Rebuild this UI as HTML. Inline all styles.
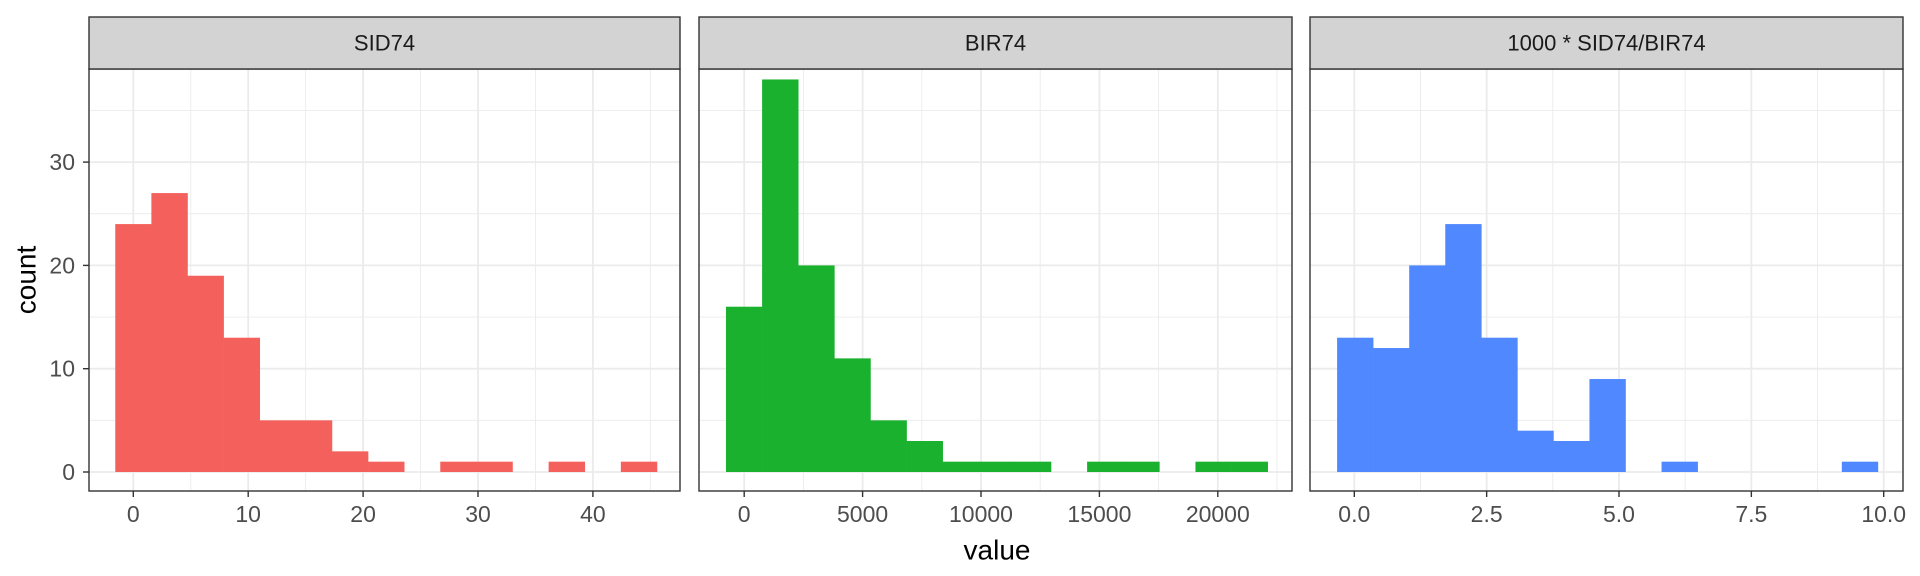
<!DOCTYPE html>
<html><head><meta charset="utf-8"><style>
html,body{margin:0;padding:0;background:#fff;}
svg{display:block;font-family:"Liberation Sans",Arial,sans-serif;}
</style></head><body>
<svg id="chart" width="1920" height="576" viewBox="0 0 1920 576" xmlns="http://www.w3.org/2000/svg">
<text x="26" y="280" font-size="28" fill="#000" text-anchor="middle" transform="rotate(-90 26 280)" dominant-baseline="central">count</text>
<text x="997" y="550" font-size="28" fill="#000" text-anchor="middle" dominant-baseline="central">value</text>
</svg>
<script>
const panelTitles = ["SID74", "BIR74", "1000 * SID74/BIR74"];
const countsSID = [24,27,19,13,5,5,2,1,0,1,1,0,1,0,1];
const countsBIR = [16,38,20,11,5,3,1,1,1,0,1,1,0,1,1];
const countsRatio = [13,12,20,24,13,4,3,9,0,1,0,0,0,0,1];
const binStartSID = -1.57, binWidthSID = 3.143;
const binStartBIR = -769, binWidthBIR = 1525;
const binStartRatio = -0.325, binWidthRatio = 0.681;
const ticksSID = [0,10,20,30,40];
const ticksBIR = [0,5000,10000,15000,20000];
const ticksRatio = [0,2.5,5,7.5,10];
const tickLabelsRatio = ["0.0","2.5","5.0","7.5","10.0"];
const yTicks = [0,10,20,30];

const NS = "http://www.w3.org/2000/svg";
const svg = document.getElementById('chart');
function mk(tag, attrs, parent){const e=document.createElementNS(NS,tag);for(const k in attrs)e.setAttribute(k,attrs[k]);(parent||svg).appendChild(e);return e;}

const plotTop = 69, plotBottom = 491, stripTop = 17;
const y0 = 472, pxPerCount = 10.33;
function yScale(c){return y0 - c*pxPerCount;}

const panels = [
 {x0:89,x1:680,ax:133.3,scale:11.49,counts:countsSID,bs:binStartSID,bw:binWidthSID,ticks:ticksSID,labels:ticksSID.map(String),color:"#F4615C",name:"sid74"},
 {x0:699,x1:1292,ax:744.2,scale:0.02368,counts:countsBIR,bs:binStartBIR,bw:binWidthBIR,ticks:ticksBIR,labels:ticksBIR.map(String),color:"#1AB12F",name:"bir74"},
 {x0:1310,x1:1903,ax:1354.3,scale:52.94,counts:countsRatio,bs:binStartRatio,bw:binWidthRatio,ticks:ticksRatio,labels:tickLabelsRatio,color:"#5088FF",name:"ratio"}
];

panels.forEach((p,pi)=>{
  const xs = v => p.ax + v*p.scale;
  const g = mk('g',{});
  
  
  mk('rect',{x:p.x0,y:plotTop,width:p.x1-p.x0,height:plotBottom-plotTop,fill:'#fff'},g);
  [5,15,25,35].forEach(v=>{mk('line',{x1:p.x0,x2:p.x1,y1:yScale(v),y2:yScale(v),stroke:'#EBEBEB','stroke-width':0.9},g);});
  const step = p.ticks[1]-p.ticks[0];
  for(let i=-1;i<p.ticks.length;i++){
    const v = p.ticks[0]+step*(i+0.5); const x=xs(v);
    if(x>p.x0&&x<p.x1) mk('line',{x1:x,x2:x,y1:plotTop,y2:plotBottom,stroke:'#EBEBEB','stroke-width':0.9},g);
  }
  yTicks.forEach(v=>{mk('line',{x1:p.x0,x2:p.x1,y1:yScale(v),y2:yScale(v),stroke:'#EBEBEB','stroke-width':1.8},g);});
  p.ticks.forEach(v=>{mk('line',{x1:xs(v),x2:xs(v),y1:plotTop,y2:plotBottom,stroke:'#EBEBEB','stroke-width':1.8},g);});
  p.counts.forEach((c,i)=>{
    if(c<=0) return;
    const xa = xs(p.bs+i*p.bw), xb = xs(p.bs+(i+1)*p.bw);
    const r = mk('rect',{x:xa,y:yScale(c),width:xb-xa+0.3,height:y0-yScale(c),fill:p.color},g);
    
    
  });
  mk('rect',{x:p.x0,y:plotTop,width:p.x1-p.x0,height:plotBottom-plotTop,fill:'none',stroke:'#333','stroke-width':1.4},g);
  const s = mk('rect',{x:p.x0,y:stripTop,width:p.x1-p.x0,height:plotTop-stripTop,fill:'#D3D3D3',stroke:'#333','stroke-width':1.4},g);
  
  
  const st = mk('text',{x:(p.x0+p.x1)/2,y:(stripTop+plotTop)/2,'font-size':22,fill:'#1A1A1A','text-anchor':'middle','dominant-baseline':'central'},g);
  st.textContent = panelTitles[pi];
  
  
  p.ticks.forEach((v,i)=>{
    mk('line',{x1:xs(v),x2:xs(v),y1:plotBottom,y2:plotBottom+6,stroke:'#333','stroke-width':1.4},g);
    const t = mk('text',{x:xs(v),y:514,'font-size':23,fill:'#4D4D4D','text-anchor':'middle','dominant-baseline':'central'},g);
    t.textContent = p.labels[i];
    
    
  });
  if(pi===0){
    yTicks.forEach(v=>{
      mk('line',{x1:p.x0-6,x2:p.x0,y1:yScale(v),y2:yScale(v),stroke:'#333','stroke-width':1.4},g);
      const t = mk('text',{x:75,y:yScale(v),'font-size':23,fill:'#4D4D4D','text-anchor':'end','dominant-baseline':'central'},g);
      t.textContent = String(v);
      
      
    });
  }
});
</script>
</body></html>
